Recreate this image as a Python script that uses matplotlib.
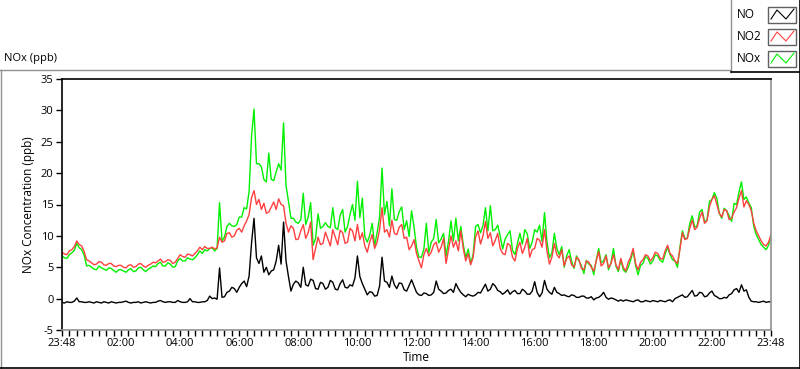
import matplotlib.pyplot as plt
import numpy as np
from matplotlib.lines import Line2D
from matplotlib.patches import Rectangle

plt.rcParams['font.family'] = ['Open Sans', 'DejaVu Sans']
plt.rcParams['axes.unicode_minus'] = False

# 5-minute samples from the start of the day (23:48) to the end (23:48)
minutes = np.arange(0, 1441, 5)

no = [
    -0.6, -0.7, -0.5, -0.6, -0.6, -0.4, 0.1, -0.5, -0.5, -0.6, -0.6, -0.5,
    -0.6, -0.7, -0.5, -0.6, -0.7, -0.5, -0.6, -0.7, -0.5, -0.6, -0.7, -0.6,
    -0.6, -0.5, -0.4, -0.6, -0.7, -0.6, -0.6, -0.5, -0.7, -0.6, -0.5, -0.6,
    -0.7, -0.6, -0.6, -0.4, -0.3, -0.5, -0.6, -0.5, -0.5, -0.6, -0.6, -0.3,
    -0.5, -0.6, -0.6, -0.5, 0.0, -0.5, -0.5, -0.6, -0.6, -0.5, -0.5, -0.3,
    0.4, 0.0, 0.1, -0.1, 4.9, 0.2, 0.3, 1.0, 1.2, 1.8, 1.6, 1.0,
    1.8, 2.4, 2.8, 1.9, 3.6, 8.9, 12.8, 6.5, 5.6, 6.8, 4.2, 5.0,
    3.8, 4.4, 4.6, 6.0, 8.5, 5.5, 12.2, 6.0, 3.5, 1.2, 2.3, 2.8,
    2.5, 1.8, 5.0, 2.2, 2.0, 3.1, 2.9, 1.6, 1.5, 2.6, 2.4, 1.5,
    1.8, 2.9, 2.6, 1.5, 1.4, 2.4, 3.0, 1.8, 1.7, 2.2, 2.0, 3.3,
    6.8, 3.5, 2.4, 1.5, 0.6, 1.1, 1.0, 0.4, 0.5, 2.0, 6.6, 2.8,
    2.6, 1.8, 3.6, 2.2, 1.6, 2.5, 2.4, 1.4, 1.2, 2.1, 3.0, 2.0,
    1.0, 0.6, 0.5, 0.9, 0.8, 0.5, 0.6, 1.0, 2.8, 1.5, 1.2, 0.8,
    0.9, 1.3, 1.5, 1.0, 2.4, 1.6, 1.0, 0.6, 0.3, 0.7, 0.5, 0.4,
    0.6, 1.0, 0.9, 1.6, 2.3, 1.2, 1.5, 2.4, 2.0, 1.3, 1.1, 0.7,
    1.0, 1.4, 0.7, 1.1, 1.3, 0.8, 0.8, 1.5, 1.2, 0.7, 0.7, 1.2,
    2.7, 1.0, 0.3, 0.9, 2.9, 1.5, 1.0, 0.7, 1.8, 1.0, 0.8, 0.5,
    0.6, 0.4, 0.3, 0.6, 0.5, 0.2, 0.2, 0.4, 0.4, 0.1, 0.1, 0.3,
    -0.2, 0.1, 0.2, 0.5, 1.0, 0.2, -0.1, 0.1, 0.0, -0.2, -0.4, -0.2,
    -0.4, -0.2, -0.3, -0.4, -0.5, -0.3, -0.2, -0.5, -0.5, -0.3, -0.4, -0.5,
    -0.3, -0.4, -0.5, -0.3, -0.4, -0.5, -0.3, -0.2, -0.5, 0.0, 0.2, 0.4,
    0.6, 0.2, 0.3, 0.8, 1.3, 0.4, 0.5, 1.0, 0.9, 0.3, 0.4, 0.9,
    1.2, 0.5, 0.3, 0.0, 0.0, 0.2, 0.1, 0.6, 0.8, 1.4, 1.6, 1.0,
    2.2, 1.2, 1.4, 0.2, -0.4, -0.5, -0.5, -0.6, -0.5, -0.4, -0.6, -0.5,
    -0.5,
]

no2 = [
    7.4, 7.1, 7.0, 7.6, 7.8, 8.3, 9.2, 8.6, 8.4, 7.5, 6.2, 6.0,
    5.7, 5.4, 5.5, 5.9, 5.8, 5.4, 5.3, 5.6, 5.6, 5.2, 5.1, 5.3,
    5.3, 5.0, 4.9, 5.3, 5.4, 5.0, 5.1, 5.5, 5.6, 5.2, 5.0, 5.3,
    5.5, 5.8, 5.7, 6.0, 6.3, 5.8, 5.9, 6.2, 6.1, 5.6, 5.8, 6.4,
    7.0, 6.7, 6.6, 7.1, 7.0, 6.8, 7.2, 7.6, 8.2, 7.8, 8.3, 8.0,
    8.0, 8.2, 7.9, 8.1, 9.8, 9.0, 9.2, 10.4, 10.5, 9.8, 10.0, 10.9,
    11.2, 10.6, 11.6, 12.4, 13.4, 16.1, 17.2, 15.0, 15.8, 14.2, 15.2, 13.6,
    13.8, 14.6, 15.4, 14.2, 15.9, 15.0, 14.8, 12.0, 10.6, 11.6, 11.2, 9.4,
    9.5, 10.8, 11.8, 9.6, 10.5, 12.2, 6.2, 8.0, 9.8, 8.6, 8.8, 10.6,
    9.5, 8.4, 11.0, 9.8, 8.6, 10.9, 10.5, 8.8, 9.0, 11.2, 10.8, 9.2,
    11.8, 9.4, 10.5, 8.4, 7.4, 9.0, 10.2, 8.0, 9.0, 11.0, 14.5, 10.6,
    11.0, 9.8, 12.5, 10.4, 10.2, 11.4, 11.8, 9.6, 9.8, 7.8, 8.4, 9.4,
    7.2, 6.0, 4.9, 7.0, 8.0, 6.8, 7.4, 8.6, 9.0, 7.4, 8.2, 9.6,
    5.6, 7.8, 10.0, 8.2, 9.2, 7.6, 10.8, 8.0, 6.0, 7.2, 5.4, 6.6,
    9.8, 10.8, 8.7, 10.0, 12.3, 9.6, 10.5, 8.4, 9.3, 10.4, 8.0, 7.2,
    7.0, 8.8, 8.5, 6.6, 6.0, 8.0, 9.0, 7.2, 8.2, 9.6, 6.6, 7.8,
    8.0, 9.6, 9.3, 8.2, 11.0, 7.6, 5.5, 6.6, 8.8, 7.0, 6.5, 7.8,
    5.2, 6.4, 6.8, 5.4, 5.0, 6.6, 6.2, 4.8, 4.6, 6.0, 5.8, 5.0,
    4.4, 6.0, 7.5, 5.2, 5.6, 6.8, 4.9, 5.6, 7.0, 5.4, 4.6, 6.4,
    5.0, 4.4, 5.8, 6.6, 8.0, 5.6, 4.6, 5.8, 6.2, 7.0, 6.8, 6.0,
    6.5, 7.4, 7.2, 6.4, 6.3, 7.6, 8.5, 7.2, 6.8, 6.0, 5.6, 7.8,
    10.5, 9.4, 9.6, 11.2, 12.5, 11.0, 11.4, 12.8, 13.8, 12.0, 12.4, 14.6,
    15.8, 16.4, 15.0, 13.6, 13.0, 14.2, 14.0, 12.6, 12.8, 13.8, 14.5, 16.0,
    17.2, 14.6, 15.6, 15.0, 14.0, 12.0, 10.8, 10.0, 9.2, 8.6, 8.4, 9.0,
    10.2,
]

nox = [
    6.8, 6.5, 6.4, 7.0, 7.3, 7.7, 8.8, 8.1, 7.8, 6.9, 5.2, 5.3,
    5.0, 4.7, 4.6, 5.2, 4.9, 4.7, 4.5, 4.9, 4.8, 4.5, 4.2, 4.6,
    4.6, 4.4, 4.2, 4.6, 4.8, 4.3, 4.4, 4.9, 5.0, 4.6, 4.3, 4.7,
    4.9, 5.2, 5.1, 5.6, 5.8, 5.2, 5.2, 5.7, 5.5, 5.0, 5.1, 6.0,
    6.4, 6.0, 6.0, 6.5, 6.3, 6.2, 6.5, 7.0, 7.6, 7.2, 7.8, 7.6,
    8.0, 8.1, 7.6, 8.0, 15.3, 9.2, 9.8, 11.5, 12.0, 11.6, 11.5, 11.8,
    13.0, 13.0, 14.5, 14.3, 17.1, 25.9, 30.2, 21.5, 21.5, 21.0, 19.0, 18.6,
    23.2, 19.0, 18.8, 20.2, 21.5, 20.5, 28.0, 18.0, 15.5, 12.8, 12.8, 12.2,
    12.0, 12.6, 16.8, 11.8, 13.0, 15.3, 8.5, 9.6, 13.5, 11.2, 11.5, 12.1,
    11.5, 11.3, 14.5, 11.3, 11.0, 13.3, 14.2, 10.6, 11.5, 13.4, 15.0, 12.5,
    18.7, 12.9, 16.0, 9.9, 9.0, 10.1, 12.0, 8.4, 10.5, 13.0, 20.8, 13.4,
    15.5, 11.6, 17.5, 12.6, 12.5, 13.9, 14.6, 11.0, 12.4, 9.9, 14.0, 11.4,
    8.2, 6.6, 6.6, 7.9, 12.0, 7.3, 9.0, 9.6, 12.6, 8.9, 9.5, 10.4,
    6.8, 9.1, 12.4, 9.2, 12.8, 9.2, 11.5, 8.6, 6.5, 7.9, 5.6, 7.0,
    11.5, 11.8, 10.5, 11.6, 14.5, 10.8, 14.8, 10.8, 11.0, 11.7, 10.0, 7.9,
    9.5, 10.2, 10.8, 7.7, 7.0, 8.8, 10.4, 8.7, 11.0, 10.3, 8.0, 9.0,
    11.0, 10.6, 11.7, 9.1, 13.7, 9.1, 6.5, 7.3, 10.4, 8.0, 7.0, 8.3,
    5.0, 6.8, 7.8, 6.0, 4.8, 6.8, 6.0, 5.2, 4.0, 6.1, 5.5, 5.3,
    3.8, 6.1, 8.0, 5.7, 6.0, 7.0, 4.6, 5.7, 8.0, 5.2, 4.3, 6.2,
    4.6, 4.2, 5.0, 6.2, 7.6, 5.3, 3.8, 5.3, 5.6, 6.7, 6.4, 5.5,
    6.0, 7.0, 6.8, 6.1, 5.8, 7.1, 8.2, 7.0, 6.2, 6.0, 5.0, 8.2,
    10.8, 9.6, 9.6, 12.0, 13.2, 11.4, 11.6, 13.8, 14.2, 12.3, 12.5, 15.5,
    15.8, 16.9, 16.0, 13.6, 12.8, 14.4, 14.0, 13.2, 12.3, 15.2, 15.0, 17.0,
    18.6, 15.8, 16.2, 15.2, 14.5, 11.5, 10.2, 9.4, 8.6, 8.2, 7.8, 8.5,
    10.0,
]

tick_hours = [0, 2, 4, 6, 8, 10, 12, 14, 16, 18, 20, 22, 24]
tick_labels = ['23:48', '02:00', '04:00', '06:00', '08:00', '10:00', '12:00',
               '14:00', '16:00', '18:00', '20:00', '22:00', '23:48']

series_names = ['NO', 'NO2', 'NOx']
colors = ['#000000', '#ff4040', '#00f000']

W, H = 800, 369
fig = plt.figure(figsize=(W / 100, H / 100), dpi=100)
fig.patch.set_facecolor('white')


def fpt(x, y):
    # pixel (from top-left) -> figure fraction
    return x / W, 1 - y / H


def fline(xs, ys, color, lw=1.0):
    pts = [fpt(x, y) for x, y in zip(xs, ys)]
    fig.add_artist(Line2D([p[0] for p in pts], [p[1] for p in pts],
                          color=color, lw=lw, transform=fig.transFigure))


ax = fig.add_axes([62 / W, 39 / H, 709 / W, 251 / H])
hours = minutes / 60.0
ax.plot(hours, nox, color=colors[2], lw=1.0)
ax.plot(hours, no2, color=colors[1], lw=1.0)
ax.plot(hours, no, color=colors[0], lw=1.0)

ax.set_xlim(0, 24)
ax.set_ylim(-5, 35)
ax.set_yticks(range(-5, 36, 5))
ax.set_xticks(tick_hours)
ax.set_xticklabels(tick_labels)
ax.set_xticks(np.arange(0.25, 24, 0.25), minor=True)
ax.tick_params(axis='both', which='major', direction='out', length=4,
               width=1, labelsize=8, pad=2, color='black')
ax.tick_params(axis='x', which='minor', direction='out', length=4, width=1)
ax.spines['top'].set_color('black')
ax.spines['left'].set_color('black')
ax.spines['bottom'].set_color('#909090')
ax.spines['right'].set_color('#909090')
for s in ax.spines.values():
    s.set_linewidth(1.2)

ax.set_ylabel('NOx Concentration (ppb)', fontsize=8.5, labelpad=4)
ax.set_xlabel('Time', fontsize=8.5, labelpad=1)

# title of the graph panel
fig.text(*fpt(4, 58), 'NOx (ppb)', fontsize=8, ha='left', va='center')

# panel frame
fline([0, 731], [69.5, 69.5], '#909090')
fline([0.5, 0.5], [69.5, 369], '#909090')
fline([0, 800], [367.5, 367.5], 'black', lw=1.2)
fline([799.5, 799.5], [0, 369], 'black', lw=1.2)

# plot legend box
fline([730.5, 730.5], [0, 71.5], '#909090')
fline([730.5, 800], [71.5, 71.5], 'black', lw=1.2)

icon_tops = [7, 29, 51]
for name, col, top in zip(series_names, colors, icon_tops):
    fig.text(*fpt(737, top + 7.5), name, fontsize=8.5, ha='left', va='center')
    x0, y0 = fpt(768, top + 16)
    fig.add_artist(Rectangle((x0, y0), 28 / W, 16 / H, transform=fig.transFigure,
                             facecolor='white', edgecolor='#606060', lw=1.0))
    zx = [771, 777, 786, 794]
    zy = [top + 12, top + 3, top + 12, top + 2]
    fline(zx, zy, col, lw=0.8)

fig.savefig('out.png', dpi=100, facecolor='white')
